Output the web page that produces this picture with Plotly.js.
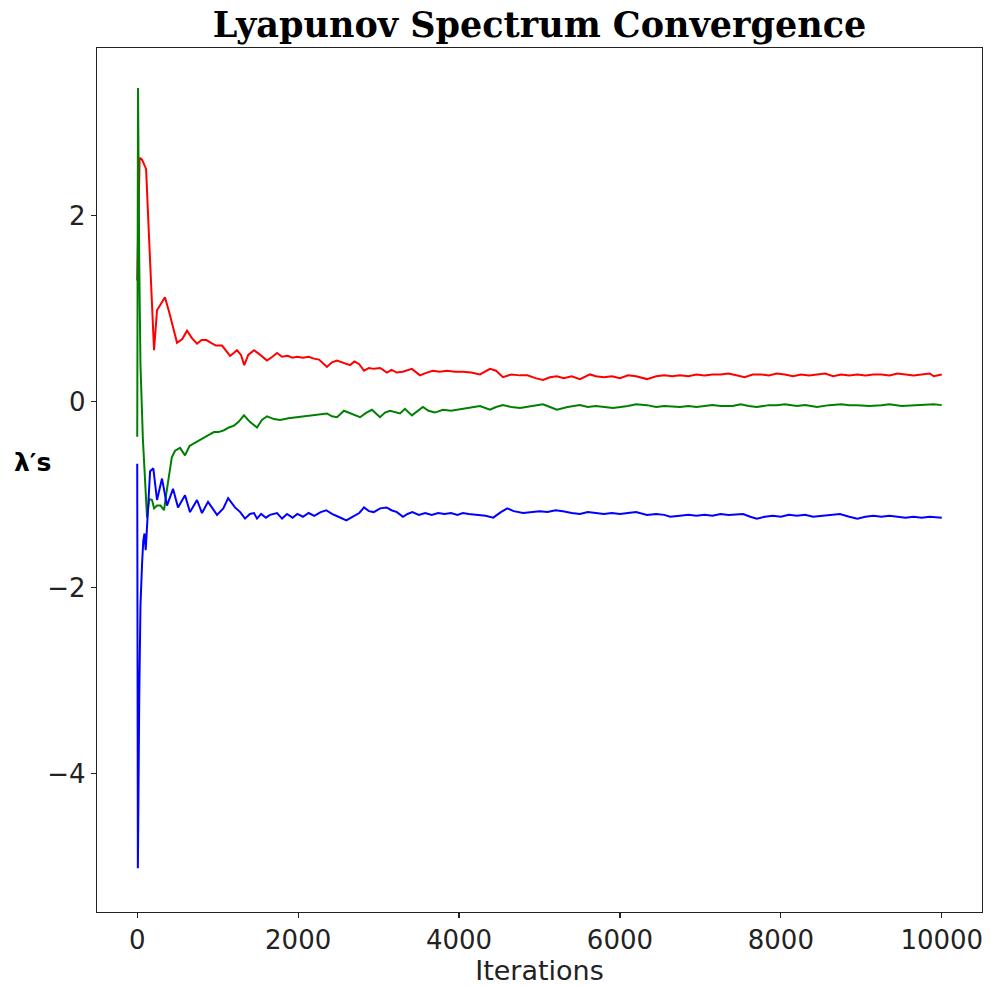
<!DOCTYPE html>
<html>
<head>
<meta charset="utf-8">
<script src="https://cdn.plot.ly/plotly-3.0.1.min.js"></script>
<style>html,body{margin:0;padding:0;background:#fff;}#chart{width:990px;height:986px;}</style>
</head>
<body>
<div id="chart"></div>
<script>
// Lyapunov exponent estimates vs iteration
const redIter = [0,30,60,110,150,209,246,300,345,400,470,495,560,619,680,743,800,860,917,980,1054,1100,1154,1200,1240,1290,1330,1380,1452,1530,1613,1680,1738,1800,1870,1930,1986,2060,2130,2196,2260,2358,2420,2483,2560,2645,2700,2760,2819,2880,2943,3020,3104,3160,3228,3300,3414,3514,3600,3675,3760,3850,3950,4048,4150,4260,4385,4460,4546,4650,4757,4850,4950,5043,5130,5217,5300,5400,5503,5627,5700,5800,5900,6000,6100,6200,6336,6450,6550,6650,6746,6850,6950,7050,7150,7250,7350,7450,7550,7650,7750,7850,7950,8050,8150,8250,8350,8450,8550,8650,8750,8850,8950,9050,9150,9250,9350,9450,9550,9650,9750,9850,9900,10000];
const redVal = [1.3,2.62,2.6,2.5,1.7,0.55,0.98,1.05,1.12,0.95,0.73,0.63,0.67,0.76,0.68,0.62,0.66,0.66,0.63,0.6,0.6,0.55,0.49,0.52,0.55,0.5,0.39,0.5,0.55,0.5,0.44,0.48,0.52,0.48,0.49,0.47,0.48,0.47,0.48,0.46,0.45,0.37,0.42,0.44,0.42,0.39,0.43,0.4,0.33,0.36,0.35,0.36,0.31,0.34,0.31,0.32,0.35,0.28,0.31,0.33,0.32,0.33,0.32,0.32,0.31,0.29,0.35,0.33,0.26,0.29,0.28,0.28,0.25,0.23,0.26,0.27,0.25,0.27,0.24,0.29,0.27,0.26,0.27,0.25,0.28,0.27,0.24,0.27,0.28,0.27,0.28,0.27,0.29,0.28,0.29,0.29,0.3,0.28,0.26,0.29,0.29,0.28,0.3,0.29,0.27,0.29,0.28,0.29,0.3,0.27,0.29,0.28,0.29,0.28,0.29,0.29,0.28,0.3,0.29,0.28,0.29,0.3,0.27,0.29];

const greenIter = [0,10,25,40,70,97,122,150,184,210,246,290,333,360,395,430,470,532,594,650,706,760,830,890,954,1010,1079,1140,1203,1260,1327,1400,1489,1550,1613,1700,1775,1880,1986,2090,2196,2280,2358,2420,2483,2570,2650,2769,2850,2918,3017,3080,3142,3266,3328,3414,3551,3620,3700,3800,3900,4048,4150,4260,4385,4460,4546,4650,4757,4900,5043,5130,5217,5350,5503,5600,5700,5913,6100,6200,6336,6450,6550,6746,6850,6950,7050,7150,7250,7400,7500,7600,7700,7850,7950,8050,8200,8300,8450,8600,8750,8850,8950,9100,9250,9350,9500,9650,9800,9900,10000];
const greenVal = [-0.38,3.37,1.5,0.4,-0.4,-0.9,-1.25,-1.05,-1.06,-1.15,-1.12,-1.12,-1.17,-1.0,-0.78,-0.6,-0.53,-0.5,-0.58,-0.48,-0.45,-0.42,-0.39,-0.36,-0.33,-0.33,-0.31,-0.28,-0.26,-0.22,-0.15,-0.22,-0.28,-0.2,-0.16,-0.19,-0.2,-0.18,-0.17,-0.16,-0.15,-0.14,-0.13,-0.16,-0.17,-0.1,-0.13,-0.17,-0.12,-0.09,-0.17,-0.12,-0.1,-0.13,-0.08,-0.15,-0.06,-0.1,-0.12,-0.09,-0.1,-0.08,-0.07,-0.05,-0.09,-0.06,-0.04,-0.06,-0.07,-0.05,-0.03,-0.06,-0.09,-0.06,-0.04,-0.06,-0.05,-0.07,-0.05,-0.03,-0.04,-0.06,-0.05,-0.06,-0.05,-0.06,-0.05,-0.04,-0.05,-0.05,-0.03,-0.05,-0.06,-0.04,-0.04,-0.03,-0.05,-0.04,-0.06,-0.04,-0.03,-0.04,-0.04,-0.05,-0.04,-0.03,-0.05,-0.04,-0.03,-0.03,-0.04];

const blueIter = [0,8,25,40,60,75,90,105,125,160,200,246,308,370,445,507,594,656,743,805,880,992,1070,1130,1215,1280,1340,1400,1452,1489,1540,1600,1650,1738,1800,1862,1930,1990,2060,2130,2200,2280,2350,2420,2500,2600,2680,2760,2819,2880,2940,3020,3100,3160,3228,3303,3360,3420,3500,3580,3660,3740,3820,3900,3980,4048,4120,4200,4260,4330,4425,4520,4600,4680,4795,4900,5000,5100,5200,5292,5400,5503,5600,5700,5800,5900,6000,6100,6200,6336,6450,6550,6625,6746,6850,6950,7050,7150,7250,7350,7450,7530,7620,7700,7800,7900,8000,8100,8200,8300,8400,8500,8600,8734,8850,8950,9050,9150,9250,9350,9450,9550,9650,9750,9850,10000];
const blueVal = [-0.67,-5.02,-3.2,-2.2,-1.75,-1.5,-1.42,-1.6,-1.3,-0.75,-0.72,-1.06,-0.83,-1.12,-0.94,-1.14,-1.01,-1.19,-1.06,-1.2,-1.08,-1.22,-1.15,-1.04,-1.14,-1.19,-1.26,-1.21,-1.2,-1.26,-1.21,-1.25,-1.22,-1.2,-1.26,-1.21,-1.25,-1.21,-1.24,-1.2,-1.23,-1.19,-1.17,-1.21,-1.24,-1.28,-1.24,-1.2,-1.14,-1.18,-1.19,-1.15,-1.14,-1.17,-1.19,-1.24,-1.21,-1.19,-1.22,-1.2,-1.22,-1.2,-1.21,-1.2,-1.22,-1.2,-1.21,-1.22,-1.22,-1.23,-1.25,-1.19,-1.15,-1.18,-1.2,-1.19,-1.18,-1.19,-1.17,-1.18,-1.2,-1.21,-1.19,-1.2,-1.21,-1.2,-1.21,-1.2,-1.19,-1.22,-1.21,-1.22,-1.24,-1.23,-1.22,-1.23,-1.22,-1.23,-1.21,-1.22,-1.21,-1.21,-1.24,-1.26,-1.24,-1.23,-1.24,-1.22,-1.23,-1.22,-1.24,-1.23,-1.22,-1.21,-1.24,-1.26,-1.24,-1.23,-1.24,-1.23,-1.24,-1.25,-1.24,-1.25,-1.24,-1.25];

const xTicks = [0,2000,4000,6000,8000,10000];
const yTicks = [-4,-2,0,2];

const traces = [
  {x: redIter, y: redVal, mode: 'lines', line: {color: '#ff0000', width: 2}},
  {x: greenIter, y: greenVal, mode: 'lines', line: {color: '#008000', width: 2}},
  {x: blueIter, y: blueVal, mode: 'lines', line: {color: '#0000ff', width: 2}}
];

const axisCommon = {
  showgrid: false, zeroline: false, showline: true, mirror: true,
  linecolor: '#222', linewidth: 1.2, ticks: 'outside', ticklen: 5, tickwidth: 1.2, tickcolor: '#222',
  tickfont: {family: 'DejaVu Sans', size: 26, color: '#222'}
};

const layout = {
  width: 990, height: 986,
  margin: {l: 97, r: 8, t: 48, b: 74},
  paper_bgcolor: '#fff', plot_bgcolor: '#fff',
  showlegend: false,
  title: {text: '<b>Lyapunov Spectrum Convergence</b>', font: {family: 'DejaVu Serif', size: 35, color: '#000'},
          x: 0.5, xref: 'paper', y: 0.9745, yref: 'container', yanchor: 'middle'},
  xaxis: Object.assign({}, axisCommon, {range: [-500, 10500], tickvals: xTicks, ticktext: xTicks.map(String),
          title: {text: 'Iterations', font: {family: 'DejaVu Sans', size: 27, color: '#222'}, standoff: 4}}),
  yaxis: Object.assign({}, axisCommon, {range: [-5.49, 3.80], tickvals: yTicks, ticktext: yTicks.map(v => v < 0 ? '\u2212' + Math.abs(v) : String(v))}),
  annotations: [{text: '<b>\u03bb\u2032s</b>', xref: 'paper', yref: 'paper', x: -0.073, y: 0.52,
                 xanchor: 'center', yanchor: 'middle', showarrow: false,
                 font: {family: 'DejaVu Sans', size: 25, color: '#000'}}]
};

Plotly.newPlot('chart', traces, layout, {displayModeBar: false, staticPlot: true});
</script>
</body>
</html>
